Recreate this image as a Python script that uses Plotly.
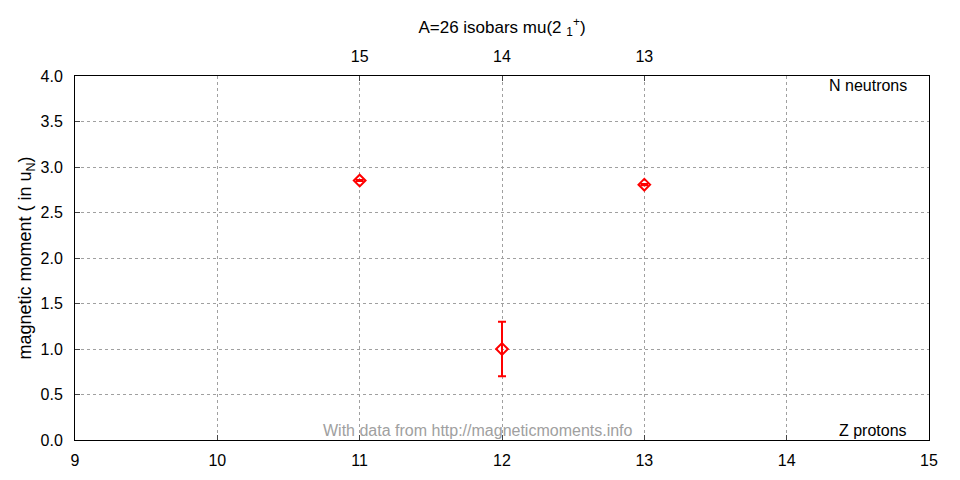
import plotly.graph_objects as go

Z = [11, 12, 13]
N_labels = ["15", "14", "13"]
mu = [2.851, 1.0, 2.806]
mu_err = [0.006, 0.3, 0.006]

FONT = "Liberation Sans"
FS = 16
grid = dict(showgrid=True, gridcolor="#a0a0a0", griddash="dot", gridwidth=1)

fig = go.Figure()
fig.add_trace(go.Scatter(
    x=Z, y=mu, mode="markers",
    marker=dict(symbol="diamond-open", size=9, color="red", line=dict(width=2, color="red")),
    error_y=dict(type="data", array=mu_err, color="red", thickness=2, width=4, visible=True),
    showlegend=False,
))
fig.add_trace(go.Scatter(x=Z, y=mu, xaxis="x2", mode="markers",
                         marker=dict(opacity=0), showlegend=False, hoverinfo="skip"))

fig.update_layout(
    width=952, height=472,
    paper_bgcolor="white", plot_bgcolor="white",
    margin=dict(l=67, r=31, t=68, b=40),
    font=dict(family=FONT, size=FS, color="black"),
    title=dict(text="A=26 isobars mu(2 <sub>1</sub><sup>+</sup>)", x=0.5, xref="paper",
               xanchor="center", y=0.96, yanchor="middle", font=dict(family=FONT, size=17)),
    xaxis=dict(range=[9, 15], tickvals=[9, 10, 11, 12, 13, 14, 15], ticks="inside", ticklen=5,
               showline=True, linecolor="black", mirror=False, zeroline=False,
               ticklabelstandoff=6, tickfont=dict(family=FONT, size=FS), **grid),
    xaxis2=dict(range=[9, 15], overlaying="x", side="top", tickvals=Z, ticktext=N_labels,
                ticks="inside", ticklen=5, showgrid=False, zeroline=False, showline=True,
                linecolor="black", ticklabelstandoff=7, tickfont=dict(family=FONT, size=FS)),
    yaxis=dict(range=[0, 4], tickvals=[0, 0.5, 1, 1.5, 2, 2.5, 3, 3.5, 4], tickformat=".1f",
               ticks="inside", ticklen=5, showline=True, linecolor="black", mirror=True,
               zeroline=False, ticklabelstandoff=8, tickfont=dict(family=FONT, size=FS),
               title=dict(text="magnetic moment ( in u<sub>N</sub>)", standoff=4,
                          font=dict(family=FONT, size=18)),
               **grid),
    annotations=[
        dict(text="N neutrons", xref="paper", yref="paper", x=0.977, y=0.975,
             xanchor="right", yanchor="middle", showarrow=False, font=dict(family=FONT, size=FS)),
        dict(text="Z protons", xref="paper", yref="paper", x=0.977, y=0.025,
             xanchor="right", yanchor="middle", showarrow=False, font=dict(family=FONT, size=FS)),
        dict(text="With data from http://magneticmoments.info", xref="paper", yref="paper",
             x=0.472, y=0.025, xanchor="center", yanchor="middle", showarrow=False,
             font=dict(family=FONT, size=FS, color="#a0a0a0")),
    ],
)
fig.write_html("out.html")
